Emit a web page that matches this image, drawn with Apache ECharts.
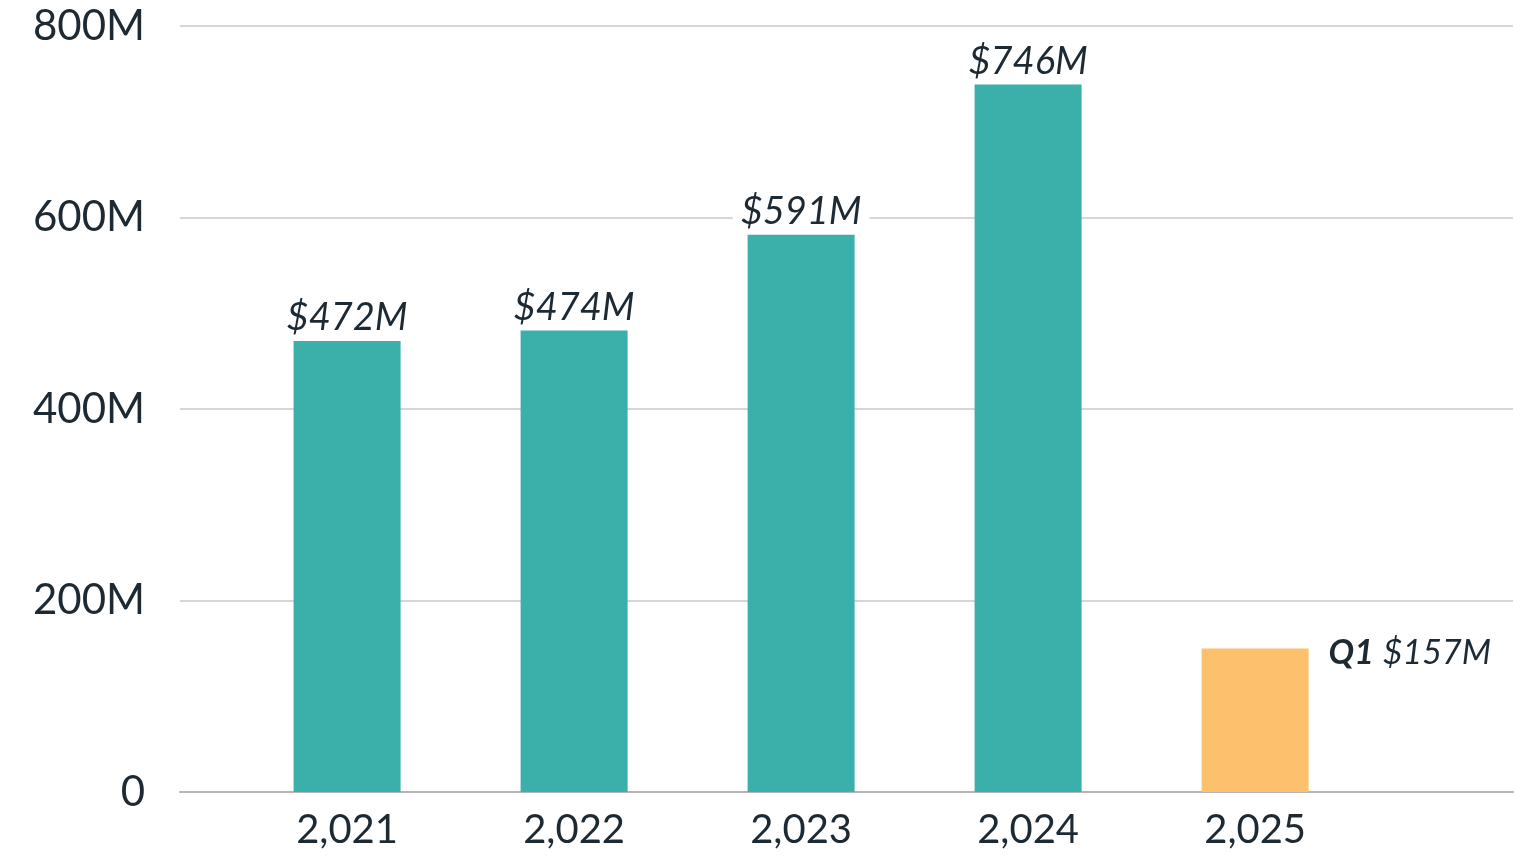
<!DOCTYPE html>
<html><head><meta charset="utf-8">
<script src="https://cdn.jsdelivr.net/npm/echarts@6/dist/echarts.min.js"></script>
<style>html,body{margin:0;padding:0;background:#fff}#c{width:1534px;height:856px}</style>
</head><body><div id="c"></div>
<script>
const years = [2021, 2022, 2023, 2024, 2025];
const values = [471, 482, 582, 739, 150];
const labels = ['$472M', '$474M', '$591M', '$746M', '$157M'];
const yTicks = [0, 200, 400, 600, 800];

const teal = '#3bafa9', orange = '#fdc06c', ink = '#1e2a33';
const data = years.map((y, i) => {
  const last = i === years.length - 1;
  return {
    value: [y, values[i]],
    itemStyle: { color: last ? orange : teal },
    label: last ? {
      position: 'right', distance: 12, offset: [0, -81 + 14],
      formatter: '{b|Q1} {i|' + labels[i] + '}',
      rich: { b: { fontWeight: 'bold', fontSize: 34, color: ink, fontFamily: 'Lato' },
              i: { fontStyle: 'italic', fontSize: 34, color: ink, fontFamily: 'Lato' } }
    } : { formatter: labels[i] }
  };
});
const chart = echarts.init(document.getElementById('c'));
chart.setOption({
  animation: false,
  grid: { left: 180, right: 21, top: 26, bottom: 64 },
  xAxis: {
    type: 'value', min: 2020.264, max: 2026.136,
    splitLine: { show: false }, axisTick: { show: false },
    axisLine: { show: true, onZero: false, lineStyle: { color: '#b5b5b5', width: 2 } },
    axisLabel: { customValues: years, color: ink, fontSize: 40, fontFamily: 'Lato', margin: 18 }
  },
  yAxis: {
    type: 'value', min: 0, max: 800, interval: 200,
    axisLine: { show: false }, axisTick: { show: false },
    splitLine: { lineStyle: { color: '#c8c8c8', width: 1.5 } },
    axisLabel: { formatter: v => v === 0 ? '0' : v + 'M', color: ink, fontSize: 42, fontFamily: 'Lato', margin: 35 }
  },
  series: [{
    type: 'bar', barWidth: 107, data,
    label: { show: true, position: 'top', distance: 4, fontStyle: 'italic', fontSize: 38,
      color: ink, fontFamily: 'Lato', backgroundColor: '#fff', padding: [0, 8] }
  }]
});
</script></body></html>
